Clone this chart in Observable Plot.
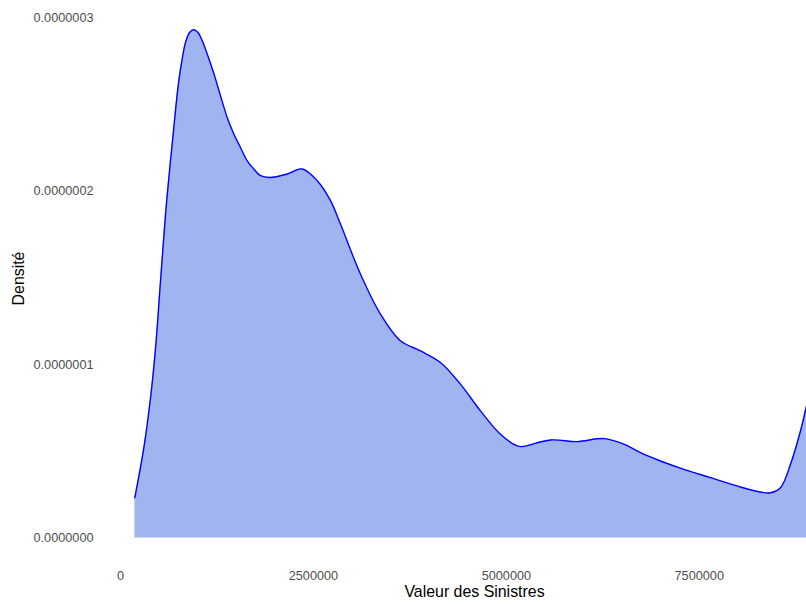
<!DOCTYPE html>
<html>
<head>
<meta charset="utf-8">
<script src="https://cdn.jsdelivr.net/npm/d3@7"></script>
<script src="https://cdn.jsdelivr.net/npm/@observablehq/plot@0.6"></script>
<style>
  html, body { margin: 0; padding: 0; background: #fff; }
  #chart svg { display: block; }
</style>
</head>
<body>
<div id="chart"></div>
<script>
// Claim values (Valeur des Sinistres)
const valeurs = [
  185000, 302000, 389000, 454000, 518000, 583000, 612000, 647000, 682000, 716000,
  755000, 799000, 842000, 897000, 949000, 1001000, 1058000, 1123000, 1208000,
  1295000, 1382000, 1468000, 1554000, 1641000, 1727000,
  1814000, 1943000, 2160000, 2354000, 2549000,
  2721000, 2850000, 3109000, 3368000, 3627000, 3887000, 4146000, 4405000, 4665000, 4924000,
  5140000, 5205000, 5573000, 5919000, 6264000, 6523000, 6739000, 6998000, 7300000, 7646000,
  8034000, 8294000, 8423000, 8553000, 8683000, 8812000, 8890000
];
// Estimated density at each value
const densites = [
  0.233e-7, 0.521e-7, 0.810e-7, 1.098e-7, 1.483e-7, 1.868e-7, 2.012e-7, 2.175e-7, 2.329e-7, 2.483e-7,
  2.637e-7, 2.762e-7, 2.858e-7, 2.916e-7, 2.931e-7, 2.916e-7, 2.868e-7, 2.791e-7, 2.680e-7,
  2.550e-7, 2.425e-7, 2.330e-7, 2.252e-7, 2.175e-7, 2.128e-7,
  2.089e-7, 2.079e-7, 2.099e-7, 2.128e-7, 2.060e-7,
  1.945e-7, 1.810e-7, 1.522e-7, 1.291e-7, 1.137e-7, 1.079e-7, 1.012e-7, 0.887e-7, 0.733e-7, 0.598e-7,
  0.531e-7, 0.527e-7, 0.565e-7, 0.556e-7, 0.573e-7, 0.541e-7, 0.492e-7, 0.444e-7, 0.396e-7, 0.348e-7,
  0.294e-7, 0.265e-7, 0.261e-7, 0.290e-7, 0.425e-7, 0.617e-7, 0.762e-7
];
const xTicks = [0, 2500000, 5000000, 7500000];
const yTicks = [0, 0.0000001, 0.0000002, 0.0000003];
const xTitle = "Valeur des Sinistres";
const yTitle = "Densité";

const data = valeurs.map((v, i) => ({valeur: v, densite: densites[i]}));

const chart = Plot.plot({
  width: 806,
  height: 604,
  marginLeft: 100,
  marginRight: 0,
  marginTop: 3,
  marginBottom: 41,
  style: {fontFamily: "'Liberation Sans', Arial, sans-serif", background: "#fff"},
  x: {domain: [-260000, 8890000]},
  y: {domain: [-0.147e-7, 3.082e-7]},
  marks: [
    Plot.areaY(data, {x: "valeur", y: "densite", fill: "#A0B4F0", curve: "catmull-rom"}),
    Plot.lineY(data, {x: "valeur", y: "densite", stroke: "#0000FF", strokeWidth: 1.4, curve: "catmull-rom"}),
    Plot.axisX({ticks: xTicks, tickFormat: d => String(d), tickSize: 0, tickPadding: 7,
      fontSize: 12.7, color: "#4D4D4D", label: null}),
    Plot.axisY({ticks: yTicks, tickFormat: d => d.toFixed(7), tickSize: 0, tickPadding: 7,
      fontSize: 12.7, color: "#4D4D4D", label: null}),
    Plot.text([xTitle], {frameAnchor: "bottom", dx: 21, dy: 28, lineAnchor: "middle",
      textAnchor: "middle", fontSize: 15.9, fill: "#000"}),
    Plot.text([yTitle], {frameAnchor: "left", dx: -82, dy: -5, rotate: -90, lineAnchor: "middle",
      textAnchor: "middle", fontSize: 15.9, fill: "#000"})
  ]
});
document.getElementById("chart").appendChild(chart);
</script>
</body>
</html>
